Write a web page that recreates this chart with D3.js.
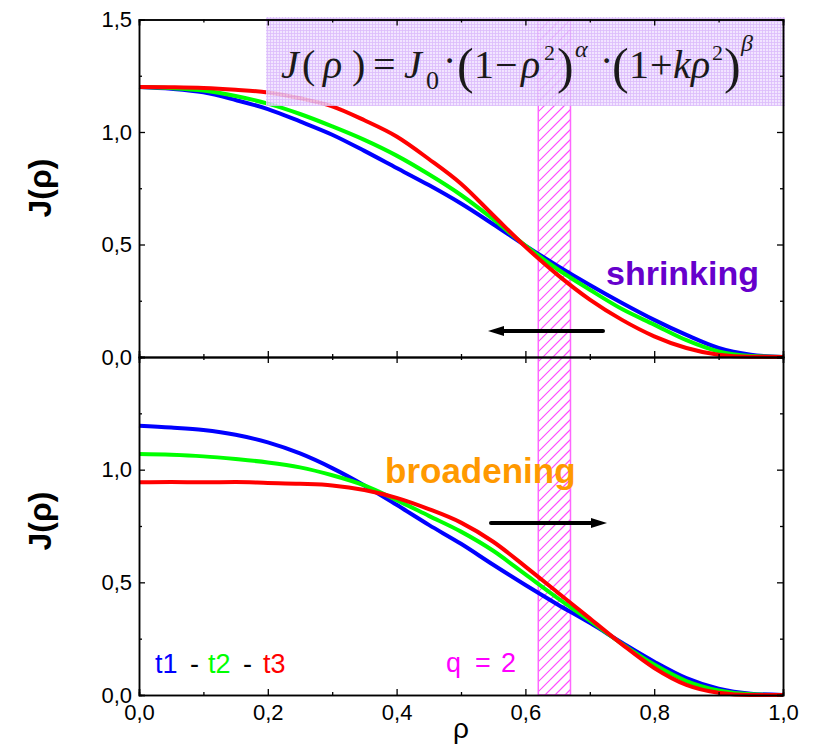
<!DOCTYPE html>
<html><head><meta charset="utf-8">
<script src="https://cdn.jsdelivr.net/npm/d3@7"></script>
<style>body{margin:0;background:#fff}svg{display:block}</style>
</head><body>
<svg id="c" width="813" height="748"></svg>
<script>
const rho = [0,0.05,0.1,0.15,0.2,0.25,0.3,0.35,0.4,0.45,0.5,0.55,0.6,0.65,0.7,0.75,0.8,0.85,0.9,0.95,1.0];
// Top panel (shrinking)
const topT1 = [1.2,1.192,1.176,1.142,1.102,1.047,0.988,0.916,0.84,0.764,0.682,0.59,0.495,0.405,0.32,0.24,0.165,0.098,0.04,0.01,0];
const topT2 = [1.2,1.195,1.184,1.16,1.126,1.08,1.025,0.965,0.895,0.812,0.72,0.612,0.495,0.39,0.299,0.213,0.144,0.075,0.025,0.005,0];
const topT3 = [1.2,1.199,1.196,1.188,1.176,1.15,1.114,1.052,0.98,0.88,0.77,0.63,0.49,0.365,0.255,0.165,0.092,0.04,0.01,0.001,0];
// Bottom panel (broadening)
const botT1 = [1.195,1.187,1.176,1.155,1.121,1.072,1.007,0.93,0.844,0.755,0.671,0.578,0.488,0.402,0.32,0.232,0.148,0.075,0.028,0.006,0];
const botT2 = [1.069,1.066,1.059,1.047,1.032,1.010,0.975,0.93,0.865,0.795,0.725,0.64,0.535,0.43,0.33,0.227,0.135,0.062,0.02,0.003,0];
const botT3 = [0.944,0.945,0.944,0.945,0.941,0.937,0.93,0.91,0.875,0.825,0.765,0.68,0.57,0.455,0.34,0.225,0.12,0.045,0.01,0,0];
const seriesNames = ["t1","t2","t3"];
const seriesColors = ["#0000ff","#00ff00","#ff0000"];
const xMajor = [0,0.2,0.4,0.6,0.8,1.0];
const xMinor = [0.1,0.3,0.5,0.7,0.9];
const yMajorTop = [0,0.5,1.0,1.5];
const yMajorBot = [0,0.5,1.0];
const yMinor = [0.25,0.75,1.25];
const band = [0.62,0.67];

const svg = d3.select("#c");
const FONT = "Arial, 'Liberation Sans', sans-serif";
const fmt = d => d3.format(".1f")(d).replace(".", ",");

const x = d3.scaleLinear().domain([0,1]).range([139,783]);
const yTop = d3.scaleLinear().domain([0,1.5]).range([357,19.5]);
const yBot = d3.scaleLinear().domain([0,1.5]).range([695,357]);

const defs = svg.append("defs");
const grid = defs.append("pattern").attr("id","grid").attr("patternUnits","userSpaceOnUse")
  .attr("width",3).attr("height",3);
grid.append("rect").attr("width",3).attr("height",3).attr("fill","#f0e0ff");
grid.append("path").attr("d","M0,0.5 H3 M0.5,0 V3").attr("stroke","#d6b0fa").attr("stroke-width",0.8);

// hatched band spanning both panels
const bx0 = x(band[0]), bx1 = x(band[1]), by0 = yTop(1.5), by1 = yBot(0);
defs.append("clipPath").attr("id","bandclip").append("rect")
  .attr("x",bx0).attr("y",by0).attr("width",bx1-bx0).attr("height",by1-by0);
const hg = svg.append("g").attr("clip-path","url(#bandclip)");
const hatchOffsets = d3.range(by0-40, by1+10, 10);
hg.selectAll("line").data(hatchOffsets).join("line")
  .attr("x1",bx0).attr("x2",bx1).attr("y1",d=>d+(bx1-bx0)).attr("y2",d=>d)
  .attr("stroke","#ff4dff").attr("stroke-width",1.2);
svg.append("rect").attr("x",bx0).attr("y",by0).attr("width",bx1-bx0).attr("height",by1-by0)
  .attr("fill","none").attr("stroke","#ff66ff").attr("stroke-width",1.5);

function drawCurves(yS, arrs){
  arrs.forEach((vals,i)=>{
    const line = d3.line().x((d,j)=>x(rho[j])).y(d=>yS(d)).curve(d3.curveMonotoneX);
    svg.append("path").datum(vals).attr("d",line).attr("fill","none")
      .attr("stroke",seriesColors[i]).attr("stroke-width",4).attr("stroke-linejoin","round");
  });
}
drawCurves(yTop,[topT1,topT2,topT3]);
drawCurves(yBot,[botT1,botT2,botT3]);

// formula box (semi-transparent, over curves)
svg.append("rect").attr("x",266).attr("y",17).attr("width",519).attr("height",89)
  .attr("fill","url(#grid)").attr("opacity",0.85);

function axes(yS, yMaj, showLabels){
  const y0 = yS.range()[0], y1 = yS.range()[1];
  const g = svg.append("g").attr("font-family",FONT);
  g.append("g").attr("transform",`translate(0,${y0})`).call(d3.axisBottom(x).tickValues(xMajor).tickSize(-6).tickPadding(9).tickFormat(showLabels?fmt:""));
  g.append("g").attr("transform",`translate(0,${y0})`).call(d3.axisBottom(x).tickValues(xMinor).tickSize(-3).tickFormat(""));
  g.append("g").attr("transform",`translate(0,${y1})`).call(d3.axisTop(x).tickValues(xMajor).tickSize(-6).tickFormat(""));
  g.append("g").attr("transform",`translate(0,${y1})`).call(d3.axisTop(x).tickValues(xMinor).tickSize(-3).tickFormat(""));
  g.append("g").attr("transform",`translate(${x(0)},0)`).call(d3.axisLeft(yS).tickValues(yMaj).tickSize(-6).tickPadding(7).tickFormat(fmt));
  g.append("g").attr("transform",`translate(${x(0)},0)`).call(d3.axisLeft(yS).tickValues(yMinor).tickSize(-3).tickFormat(""));
  g.append("g").attr("transform",`translate(${x(1)},0)`).call(d3.axisRight(yS).tickValues(yMajorTop).tickSize(-6).tickFormat(""));
  g.append("g").attr("transform",`translate(${x(1)},0)`).call(d3.axisRight(yS).tickValues(yMinor).tickSize(-3).tickFormat(""));
  g.selectAll(".domain").attr("stroke","#000").attr("stroke-width",1.5);
  g.selectAll(".tick line").attr("stroke","#000").attr("stroke-width",1.3);
  g.selectAll(".tick text").attr("font-size",22).attr("fill","#000");
}
axes(yTop, yMajorTop, false);
axes(yBot, yMajorBot, true);

// formula text
const F = svg.append("g").attr("font-family","'Liberation Serif','Times New Roman',serif").attr("fill","#1a1a1a");
function ft(t,xp,yp,size,italic){
  F.append("text").attr("x",xp).attr("y",yp).attr("font-size",size)
    .attr("font-style",italic?"italic":"normal").text(t);
}
const BL = 78;
ft("J",281,BL,40,true);
ft("(",302,BL,40,false);
ft("ρ",323,BL,40,true);
ft(")",352,BL,40,false);
ft("=",373,BL,40,false);
ft("J",404,BL,40,true);
ft("0",426,89,26,false);
ft("·",443,BL-4,40,false);
ft("(",457,BL+5,50,false);
ft("1",474,BL,40,false);
ft("−",495,BL,40,false);
ft("ρ",521,BL,40,true);
ft("2",544,60,22,false);
ft(")",557,BL+5,50,false);
ft("α",575,57,24,true);
ft("·",600,BL-4,40,false);
ft("(",612,BL+5,50,false);
ft("1",629,BL,40,false);
ft("+",650,BL,40,false);
ft("k",673,BL,40,true);
ft("ρ",691,BL,40,true);
ft("2",712,60,22,false);
ft(")",724,BL+5,50,false);
ft("β",741,51,24,true);

// annotations
svg.append("text").attr("x",606).attr("y",285).attr("font-family",FONT).attr("font-weight","bold")
  .attr("font-size",34).attr("fill","#6600cc").text("shrinking");
svg.append("text").attr("x",385).attr("y",483).attr("font-family",FONT).attr("font-weight","bold")
  .attr("font-size",35).attr("fill","#ff9900").text("broadening");

// arrows
function arrow(x1,x2,yy){
  const dir = Math.sign(x2-x1);
  svg.append("line").attr("x1",x1).attr("x2",x2-dir*10).attr("y1",yy).attr("y2",yy)
    .attr("stroke","#000").attr("stroke-width",4).attr("stroke-linecap","round");
  svg.append("path").attr("d",`M${x2},${yy} L${x2-dir*16},${yy-5} L${x2-dir*16},${yy+5} Z`).attr("fill","#000");
}
arrow(603,488,331);
arrow(491,607,523);

// legend
const L = svg.append("text").attr("y",673).attr("font-family",FONT).attr("font-size",27);
const legParts = [["t1",seriesColors[0],155],["-","#000",190],["t2",seriesColors[1],208],["-","#000",243],["t3",seriesColors[2],263]];
legParts.forEach(p=>L.append("tspan").attr("x",p[2]).attr("fill",p[1]).text(p[0]));
const Q = svg.append("text").attr("y",672).attr("font-family",FONT).attr("font-size",27).attr("fill","#ff00ff");
Q.append("tspan").attr("x",446).text("q");
Q.append("tspan").attr("x",475).text("=");
Q.append("tspan").attr("x",501).text("2");

// axis titles
[188,521].forEach(cy=>{
  svg.append("text").attr("transform",`translate(51,${cy}) rotate(-90)`).attr("text-anchor","middle")
    .attr("font-family",FONT).attr("font-weight","bold").attr("font-size",32).text("J(ρ)");
});
svg.append("text").attr("x",461).attr("y",738).attr("text-anchor","middle").attr("font-family",FONT)
  .attr("font-size",28).text("ρ");
</script>
</body></html>
